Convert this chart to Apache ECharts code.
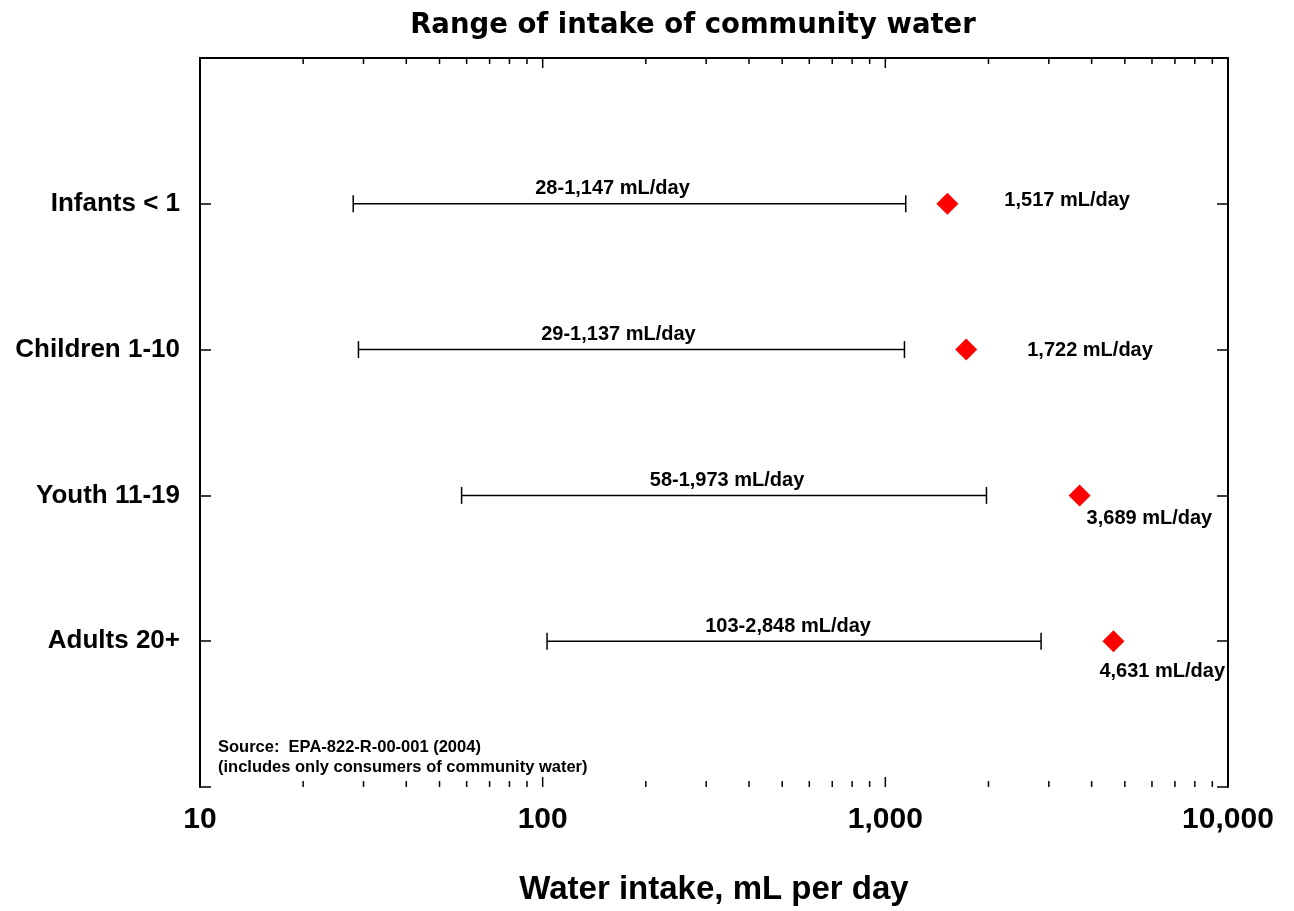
<!DOCTYPE html>
<html><head><meta charset="utf-8">
<script src="https://cdn.jsdelivr.net/npm/echarts@6/dist/echarts.min.js"></script>
<style>html,body{margin:0;padding:0;background:#fff}#c{width:1294px;height:911px}</style>
</head><body><div id="c"></div>
<script>
const categories = ['Infants < 1', 'Children 1-10', 'Youth 11-19', 'Adults 20+'];
const rangeLow = [28, 29, 58, 103];
const rangeHigh = [1147, 1137, 1973, 2848];
const rangeLabels = ['28-1,147 mL/day', '29-1,137 mL/day', '58-1,973 mL/day', '103-2,848 mL/day'];
const maxValues = [1517, 1722, 3689, 4631];
const maxLabels = ['1,517 mL/day', '1,722 mL/day', '3,689 mL/day', '4,631 mL/day'];
const xTickValues = [10, 100, 1000, 10000];
const titleText = 'Range of intake of community water';
const xAxisTitle = 'Water intake, mL per day';
const sourceNote = 'Source:  EPA-822-R-00-001 (2004)\n(includes only consumers of community water)';

// style-only arrays (pixel nudges of labels)
const rangeLabelShift = [-17, -13, 3, -6];
const maxLabelPos = [[68, 8], [72, 12], [18, 34], [-3, 41]];

const minorTickValues = [];
for (let d = 0; d < xTickValues.length - 1; d++) {
  for (let m = 2; m <= 9; m++) minorTickValues.push(xTickValues[d] * m);
}
const tickMarks = xTickValues.map(v => [v, 10]).concat(minorTickValues.map(v => [v, 6]));

const FONT = '"Liberation Sans", Arial, Helvetica, sans-serif';
const chart = echarts.init(document.getElementById('c'), null, {renderer: 'canvas'});

const axisLineStyle = {show: true, lineStyle: {color: '#000', width: 2}};
const baseX = {
  type: 'log', logBase: 10, min: 10, max: 10000,
  axisLine: axisLineStyle,
  axisTick: {show: false},
  minorTick: {show: false},
  splitLine: {show: false}
};
const baseY = {
  type: 'value', min: 0, max: 5, interval: 1, inverse: true,
  axisLine: axisLineStyle,
  axisTick: {show: true, inside: true, length: 11, lineStyle: {color: '#000', width: 1.5}},
  splitLine: {show: false}
};

chart.setOption({
  animation: false,
  backgroundColor: '#fff',
  grid: {left: 200, right: 66, top: 58, bottom: 124, containLabel: false},
  xAxis: [
    Object.assign({}, baseX, {
      position: 'bottom',
      name: xAxisTitle, nameLocation: 'middle', nameGap: 86,
      nameTextStyle: {fontFamily: FONT, fontWeight: 'bold', fontSize: 33, color: '#000'},
      axisLabel: {show: true, margin: 18, fontFamily: FONT, fontWeight: 'bold', fontSize: 30, color: '#000',
        formatter: v => Math.round(v).toLocaleString('en-US')}
    }),
    Object.assign({}, baseX, {position: 'top', axisLabel: {show: false}})
  ],
  yAxis: [
    Object.assign({}, baseY, {
      position: 'left',
      axisLabel: {show: true, margin: 20, fontFamily: FONT, fontWeight: 'bold', fontSize: 26, color: '#000',
        formatter: v => (v >= 1 && v <= categories.length) ? categories[v - 1] : ''}
    }),
    Object.assign({}, baseY, {position: 'right', axisLabel: {show: false}})
  ],
  graphic: [
    {type: 'text', x: 693, y: 26, style: {text: titleText, fontFamily: '"DejaVu Sans", sans-serif', fontWeight: 'bold', fontSize: 27.5, fill: '#000', align: 'center', verticalAlign: 'middle'}},
    {type: 'text', x: 218, y: 737, style: {text: sourceNote, fontFamily: FONT, fontWeight: 'bold', fontSize: 16.5, lineHeight: 20, fill: '#000', align: 'left', verticalAlign: 'top'}}
  ],
  series: [
    {
      type: 'custom', name: 'xTicks', silent: true, clip: false,
      data: tickMarks,
      encode: {x: 0},
      renderItem: function (params, api) {
        const len = api.value(1);
        const t = api.coord([api.value(0), 0]);
        const b = api.coord([api.value(0), 5]);
        const st = {stroke: '#000', lineWidth: 1.5};
        return {type: 'group', children: [
          {type: 'line', shape: {x1: t[0], y1: t[1], x2: t[0], y2: t[1] + len}, style: st},
          {type: 'line', shape: {x1: b[0], y1: b[1], x2: b[0], y2: b[1] - len}, style: st}
        ]};
      }
    },
    {
      type: 'custom', name: 'range', silent: true, clip: false,
      data: rangeLow.map((lo, i) => [lo, rangeHigh[i], i + 1, i]),
      encode: {x: [0, 1], y: 2},
      renderItem: function (params, api) {
        const i = api.value(3);
        const p1 = api.coord([api.value(0), api.value(2)]);
        const p2 = api.coord([api.value(1), api.value(2)]);
        const st = {stroke: '#000', lineWidth: 1.5};
        const mid = (p1[0] + p2[0]) / 2 + rangeLabelShift[i];
        return {type: 'group', children: [
          {type: 'line', shape: {x1: p1[0], y1: p1[1], x2: p2[0], y2: p2[1]}, style: st},
          {type: 'line', shape: {x1: p1[0], y1: p1[1] - 8.5, x2: p1[0], y2: p1[1] + 8.5}, style: st},
          {type: 'line', shape: {x1: p2[0], y1: p2[1] - 8.5, x2: p2[0], y2: p2[1] + 8.5}, style: st},
          {type: 'text', x: mid, y: p1[1] - 15, style: {text: rangeLabels[i], fontFamily: FONT, fontWeight: 'bold', fontSize: 20, fill: '#000', align: 'center', verticalAlign: 'middle'}}
        ]};
      }
    },
    {
      type: 'scatter', name: 'max', symbol: 'diamond', symbolSize: 22,
      itemStyle: {color: '#fe0000', opacity: 1},
      data: maxValues.map((v, i) => ({value: [v, i + 1], label: {position: maxLabelPos[i]}})),
      label: {show: true, formatter: p => maxLabels[p.dataIndex], fontFamily: FONT, fontWeight: 'bold', fontSize: 20, color: '#000', opacity: 1, align: 'left', verticalAlign: 'middle'}
    }
  ]
});
</script>
</body></html>
